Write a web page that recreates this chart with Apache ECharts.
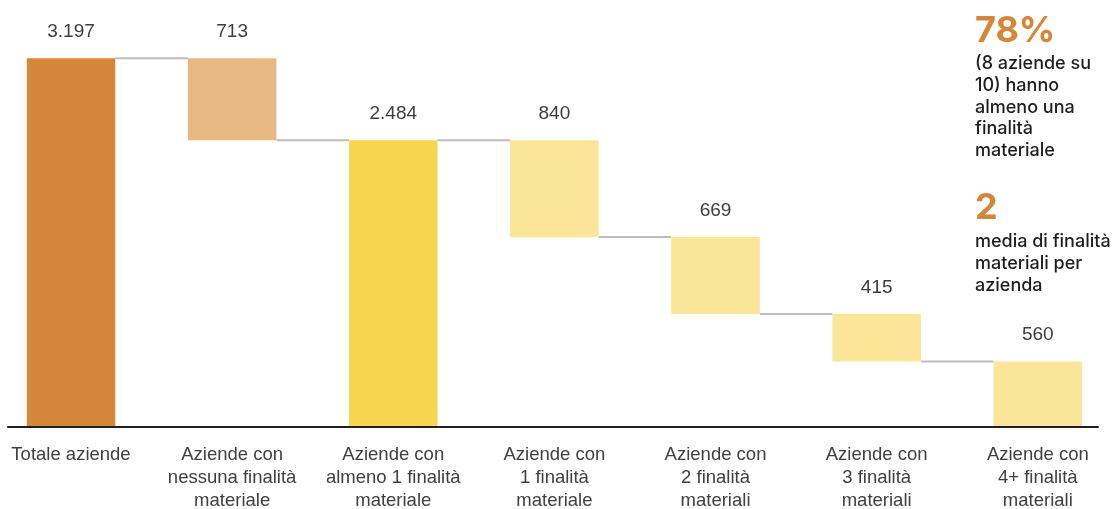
<!DOCTYPE html>
<html>
<head>
<meta charset="utf-8">
<script src="https://cdn.jsdelivr.net/npm/echarts@6/dist/echarts.min.js"></script>
<style>
html,body{margin:0;padding:0;background:#fff;}
#chart{width:1116px;height:509px;}
</style>
</head>
<body>
<div id="chart"></div>
<script>
const categories = [
  'Totale aziende',
  'Aziende con\nnessuna finalità\nmateriale',
  'Aziende con\nalmeno 1 finalità\nmateriale',
  'Aziende con\n1 finalità\nmateriale',
  'Aziende con\n2 finalità\nmateriali',
  'Aziende con\n3 finalità\nmateriali',
  'Aziende con\n4+ finalità\nmateriali'
];
const values = [3197, 713, 2484, 840, 669, 415, 560];
// 'total' bars start at zero, 'step' bars float down from the running level
const kinds = ['total', 'step', 'total', 'step', 'step', 'step', 'step'];
const barColors = ['#D4873A', '#E8B882', '#F7D64F', '#FAE599', '#FAE599', '#FAE599', '#FAE599'];
const sideHeadline1 = '78%';
const sideText1 = '(8 aziende su\n10) hanno\nalmeno una\nfinalità\nmateriale';
const sideHeadline2 = '2';
const sideText2 = 'media di finalità\nmateriali per\nazienda';

// derive waterfall bases and connector levels
const bases = [];
const tops = [];
let level = 0;
values.forEach((v, i) => {
  if (kinds[i] === 'total') { bases.push(0); tops.push(v); level = v; }
  else { bases.push(level - v); tops.push(level); level = level - v; }
});
const connectors = [];
for (let i = 0; i < values.length - 1; i++) {
  connectors.push([i, tops[i + 1]]);
}

function fmt(v) {
  return String(v).replace(/\B(?=(\d{3})+(?!\d))/g, '.');
}

const BAR_W = 88.5;
const chart = echarts.init(document.getElementById('chart'), null, {renderer: 'canvas'});
chart.setOption({
  animation: false,
  backgroundColor: '#ffffff',
  grid: [
    {left: 71, right: 78.2, top: 23.5, bottom: 83, containLabel: false, outerBoundsMode: 'none'},
    {left: 8, right: 18, top: 23.5, bottom: 82, containLabel: false, outerBoundsMode: 'none'}
  ],
  xAxis: [
    {
      type: 'category', gridIndex: 0, data: categories, boundaryGap: false,
      axisLine: {show: false}, axisTick: {show: false},
      axisLabel: {
        interval: 0, margin: 18, color: '#404040',
        fontFamily: 'Liberation Sans', fontSize: 18.5, lineHeight: 22.7
      }
    },
    {
      type: 'category', gridIndex: 1, data: categories,
      axisLine: {show: true, lineStyle: {color: '#1f1f1f', width: 2}},
      axisTick: {show: false}, axisLabel: {show: false}
    }
  ],
  yAxis: [
    {type: 'value', gridIndex: 0, min: 0, max: 3500, show: false, splitLine: {show: false}},
    {type: 'value', gridIndex: 1, min: 0, max: 3500, show: false, splitLine: {show: false}}
  ],
  series: [
    {
      type: 'custom', xAxisIndex: 0, yAxisIndex: 0, z: 1,
      data: connectors,
      renderItem: function (params, api) {
        const i = api.value(0), lv = api.value(1);
        const p0 = api.coord([i, lv]);
        const p1 = api.coord([i + 1, lv]);
        return {
          type: 'line',
          shape: {x1: p0[0] + BAR_W / 2, y1: p0[1], x2: p1[0] - BAR_W / 2, y2: p1[1]},
          style: {stroke: '#BDBDBD', lineWidth: 2}
        };
      }
    },
    {
      type: 'bar', stack: 'w', xAxisIndex: 0, yAxisIndex: 0, barWidth: BAR_W, z: 2,
      itemStyle: {color: 'rgba(0,0,0,0)'},
      data: bases, silent: true
    },
    {
      type: 'bar', stack: 'w', xAxisIndex: 0, yAxisIndex: 0, barWidth: BAR_W, z: 2,
      data: values.map((v, i) => ({value: v, itemStyle: {color: barColors[i]}})),
      label: {
        show: true, position: 'top', distance: 17,
        color: '#3d3d3d', fontFamily: 'Liberation Sans', fontSize: 19,
        formatter: p => fmt(p.value)
      }
    }
  ],
  graphic: [
    {type: 'text', left: 975, top: 11, style: {text: sideHeadline1, fill: '#D4873A', font: 'bold 36px Inter', lineHeight: 40}},
    {type: 'text', left: 975, top: 53, style: {text: sideText1, fill: '#1e1e1e', font: '500 18px Inter', lineHeight: 21.7}},
    {type: 'text', left: 975, top: 188, style: {text: sideHeadline2, fill: '#D4873A', font: 'bold 36px Inter', lineHeight: 40}},
    {type: 'text', left: 975, top: 231, style: {text: sideText2, fill: '#1e1e1e', font: '500 18px Inter', lineHeight: 21.7}}
  ]
});
</script>
</body>
</html>
